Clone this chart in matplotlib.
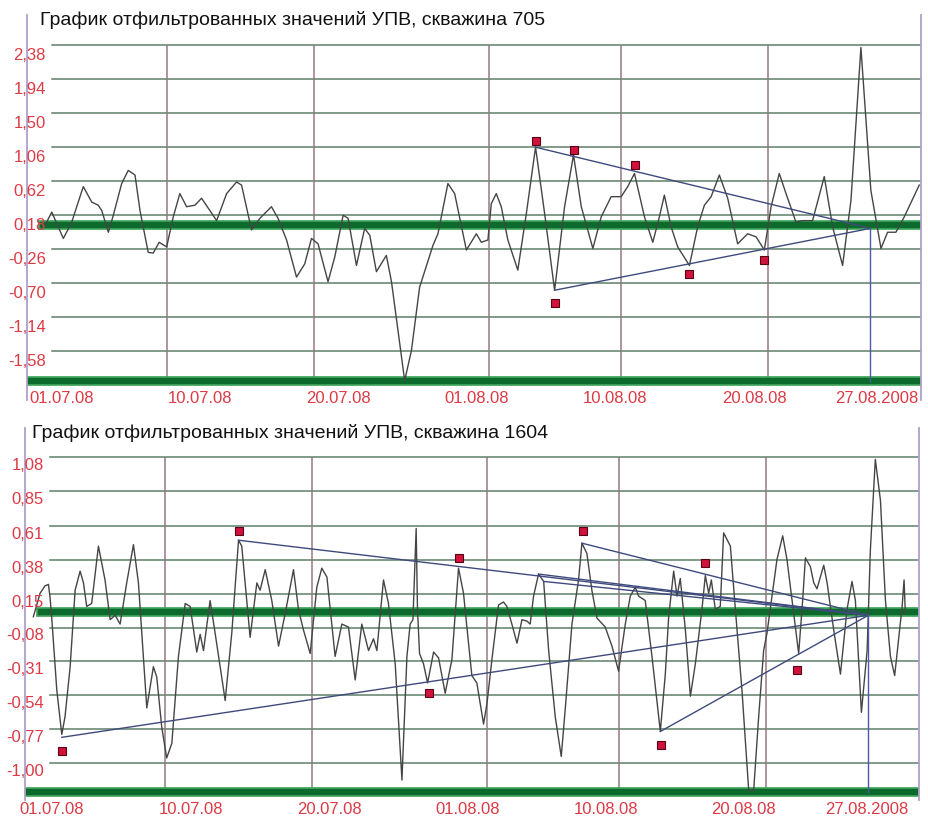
import numpy as np
import matplotlib.pyplot as plt
import matplotlib.transforms as mtransforms

plt.rcParams['font.family'] = ['Liberation Sans', 'DejaVu Sans']

# дни от 01.07.08
date_lines = [9, 19, 31, 40, 50]
date_labels = ['01.07.08', '10.07.08', '20.07.08', '01.08.08', '10.08.08', '20.08.08', '27.08.2008']
day_end = 57.0  # 27.08.2008

# скважина 705
title_705 = 'График отфильтрованных значений УПВ, скважина 705'
days_705 = [0.68, 1.14, 1.93, 2.50, 3.29, 3.87, 4.31, 4.55, 5.00, 5.34,
            5.91, 6.36, 6.82, 7.16, 7.72, 8.06, 8.47, 8.98, 9.43, 9.88,
            10.34, 10.91, 11.36, 11.93, 12.39, 13.07, 13.75, 14.09, 14.77, 15.34,
            16.13, 16.58, 17.16, 17.84, 18.40, 18.86, 19.31, 19.99, 20.45, 21.02,
            21.36, 21.93, 22.49, 22.84, 23.29, 23.97, 24.32, 25.22, 25.68, 26.24,
            27.15, 27.49, 28.17, 28.63, 29.43, 30.11, 30.45, 30.90, 31.13, 31.47,
            31.81, 32.26, 32.94, 33.52, 34.15, 34.77, 35.45, 36.13, 36.74, 37.27,
            38.06, 38.63, 39.31, 39.99, 40.44, 40.90, 41.58, 42.15, 42.60, 42.94,
            43.40, 43.85, 44.65, 45.21, 45.67, 46.13, 46.69, 47.26, 47.94, 48.62,
            49.20, 49.76, 50.22, 50.78, 51.24, 51.92, 52.37, 53.05, 53.85, 54.42,
            55.10, 55.67, 56.35, 57.03, 57.72, 58.17, 58.74, 59.31, 60.33]
upv_705 = [0.18, 0.35, 0.01, 0.22, 0.68, 0.48, 0.44, 0.37, 0.09, 0.31,
           0.72, 0.89, 0.83, 0.37, -0.17, -0.18, -0.04, -0.10, 0.29, 0.59,
           0.42, 0.44, 0.53, 0.37, 0.24, 0.59, 0.74, 0.70, 0.12, 0.27,
           0.42, 0.27, -0.01, -0.49, -0.32, 0.01, -0.06, -0.55, -0.23, 0.31,
           0.27, -0.34, 0.14, 0.05, -0.42, -0.21, -0.55, -1.83, -1.44, -0.62,
           -0.08, 0.07, 0.72, 0.59, -0.14, 0.07, -0.04, -0.01, 0.46, 0.59,
           0.42, -0.01, -0.40, 0.33, 1.19, 0.33, -0.66, 0.42, 1.09, 0.42,
           -0.12, 0.29, 0.55, 0.55, 0.68, 0.85, 0.29, -0.04, 0.29, 0.57,
           0.16, -0.10, -0.34, 0.16, 0.44, 0.55, 0.83, 0.53, -0.06, 0.07,
           0.03, -0.14, 0.42, 0.85, 0.59, 0.22, 0.24, 0.24, 0.81, 0.16,
           -0.34, 0.50, 2.48, 0.63, -0.12, 0.09, 0.09, 0.29, 0.70]
ticks_705 = [2.38, 1.94, 1.50, 1.06, 0.62, 0.18, -0.26, -0.70, -1.14, -1.58]
mean_705 = 0.18
floor_705 = -1.84
apex_705 = 0.14
mark_x_705 = [34.15, 36.74, 40.95, 35.45, 44.65, 49.73]
mark_y_705 = [1.27, 1.16, 0.96, -0.83, -0.45, -0.27]
trend_x_705 = [34.15, 35.45]
trend_y_705 = [1.19, -0.66]

# скважина 1604
title_1604 = 'График отфильтрованных значений УПВ, скважина 1604'
days_1604 = [0.02, 0.48, 0.82, 1.05, 1.16, 1.27, 1.62, 1.96, 2.18, 2.53,
             2.87, 3.21, 3.44, 3.66, 4.00, 4.46, 4.91, 5.26, 5.60, 5.94,
             6.39, 6.85, 7.19, 7.76, 8.21, 8.44, 8.78, 9.12, 9.47, 9.92,
             10.38, 10.72, 11.17, 11.40, 11.63, 12.08, 12.42, 13.11, 13.56, 14.02,
             14.24, 14.81, 15.27, 15.49, 15.84, 16.29, 16.75, 17.20, 17.77, 18.11,
             18.45, 18.91, 19.36, 19.70, 20.05, 20.61, 21.07, 21.52, 21.98, 22.43,
             22.89, 23.23, 23.46, 23.91, 24.25, 24.71, 25.17, 25.51, 25.73, 25.92,
             26.14, 26.23, 26.37, 26.64, 26.92, 27.33, 27.67, 28.12, 28.58, 29.03,
             29.37, 29.60, 29.94,
             30.28, 30.74, 30.97, 31.31, 31.76, 32.10, 32.33, 32.67, 33.02, 33.36,
             33.70, 33.92, 34.15, 34.49, 34.84, 35.18, 35.63, 36.04, 36.31, 36.77,
             37.22, 37.45, 37.79, 38.13, 38.48, 39.04, 39.50, 39.95, 40.41, 40.75,
             41.09, 41.32, 41.77, 42.23, 42.80, 43.14, 43.37, 43.71, 43.94, 44.16,
             44.51, 44.85, 45.19, 45.64, 45.87, 46.10, 46.28, 46.55, 46.89, 47.12,
             47.58, 47.92, 48.37, 48.83, 49.17, 49.51, 49.85, 50.08, 50.42, 50.76,
             51.15, 51.44, 51.79, 52.24, 52.51, 52.70, 53.04, 53.27, 53.49, 53.72,
             53.95, 54.18, 54.63, 55.09, 55.54, 55.88, 56.11, 56.52, 56.91, 57.13,
             57.47, 57.82, 58.16, 58.50, 58.79, 59.07, 59.30, 59.43, 59.52]
upv_1604 = [0.05, 0.21, 0.26, 0.27, 0.18, 0.05, -0.45, -0.75, -0.63, -0.29,
            0.23, 0.36, 0.28, 0.12, 0.14, 0.53, 0.30, 0.03, 0.06, 0.00,
            0.28, 0.54, 0.28, -0.57, -0.29, -0.36, -0.70, -0.91, -0.81, -0.22,
            0.14, 0.12, -0.19, -0.07, -0.18, 0.16, -0.06, -0.52, -0.06, 0.57,
            0.53, -0.09, 0.28, 0.23, 0.37, 0.16, -0.15, 0.07, 0.37, 0.10,
            -0.04, -0.20, 0.25, 0.38, 0.32, -0.22, 0.00, -0.02, -0.38, 0.00,
            -0.18, -0.10, -0.18, 0.30, 0.14, -0.27, -1.06, -0.22, 0.00, 0.03,
            0.65, 0.10, -0.20, -0.27, -0.40, -0.19, -0.23, -0.47, -0.24, 0.38,
            0.21, -0.02, -0.35,
            -0.40, -0.68, -0.54, -0.24, 0.13, 0.15, 0.12, 0.00, -0.13, 0.03,
            0.02, 0.00, 0.19, 0.34, 0.29, -0.18, -0.63, -0.90, -0.58, 0.00,
            0.30, 0.55, 0.48, 0.23, 0.04, -0.02, -0.15, -0.32, 0.00, 0.19,
            0.25, 0.19, 0.16, -0.22, -0.73, -0.34, 0.05, 0.36, 0.19, 0.31,
            -0.04, -0.49, -0.27, 0.10, 0.33, 0.21, 0.30, 0.10, 0.12, 0.62,
            0.53, 0.10, -0.45, -1.13, -1.13, -0.63, -0.18, -0.06, 0.19, 0.44,
            0.60, 0.44, 0.16, -0.20, 0.16, 0.45, 0.39, 0.28, 0.24, 0.32,
            0.40, 0.28, -0.04, -0.34, 0.10, 0.29, 0.16, -0.60, -0.18, 0.50,
            1.12, 0.84, 0.16, -0.22, -0.35, -0.09, 0.12, 0.30, 0.07]
ticks_1604 = [1.08, 0.85, 0.61, 0.38, 0.15, -0.08, -0.31, -0.54, -0.77, -1.00]
mean_1604 = 0.08
floor_1604 = -1.14
apex_1604 = 0.06
mark_x_1604 = [1.96, 14.02, 26.99, 29.03, 37.52, 45.82, 42.84, 52.13]
mark_y_1604 = [-0.86, 0.635, -0.47, 0.447, 0.63, 0.413, -0.82, -0.31]
trend_x_1604 = [14.02, 34.49, 34.84, 37.45, 1.96, 42.80]
trend_y_1604 = [0.57, 0.34, 0.29, 0.55, -0.77, -0.73]

W, H = 929, 816
fig = plt.figure(figsize=(W / 100, H / 100), dpi=100)

RED = '#dc3a44'
GRID = '#5f7f69'
VLINE = '#927a82'
EDGE = '#b0a0c8'
DKGREEN = '#0c6b2c'


def panel(box, ylim, title, title_xy, days, upv, ticks, grid_shift, mean, floor,
          apex, mx, my, tx, ty, label_fr):
    l, t, r, b = box
    ax = fig.add_axes([l / W, 1 - b / H, (r - l) / W, (b - t) / H])
    ax.set_xlim(-0.55, 60.45)
    ax.set_ylim(*ylim)
    ax.set_xticks([])
    ax.set_yticks([])
    for s in ['top', 'bottom']:
        ax.spines[s].set_visible(False)
    for s in ['left', 'right']:
        ax.spines[s].set_color(EDGE)
        ax.spines[s].set_linewidth(1.3)

    top_grid = ticks[0] + grid_shift
    for v in ticks:
        ax.axhline(v + grid_shift, xmin=0.028, color=GRID, lw=1.1, zorder=1)
    ax.vlines(date_lines, floor, top_grid, color=VLINE, lw=1.1, zorder=1)

    ax.axhline(mean, xmin=0.018, color='#3fa45a', lw=7, zorder=2)
    ax.axhline(mean, xmin=0.018, color=DKGREEN, lw=4.5, zorder=2)
    ax.axhline(floor, color='#3fa45a', lw=7, zorder=2)
    ax.axhline(floor, color=DKGREEN, lw=4.5, zorder=2)

    ax.plot(days, upv, color='#454545', lw=1.0, zorder=3)

    for x, y in zip(tx, ty):
        ax.plot([x, day_end], [y, apex], color='#3f4a7c', lw=1.0, zorder=4)
    ax.plot([day_end, day_end], [apex, floor], color='#4a5aa0', lw=1.0, zorder=4)

    ax.plot(mx, my, 's', ls='none', ms=6, mfc='#d0123c', mec='#5a0016',
            mew=0.8, zorder=5)

    trans = mtransforms.blended_transform_factory(ax.transAxes, ax.transData)
    for v in ticks:
        ax.text(0.021, v, f'{v:.2f}'.replace('.', ','), transform=trans,
                ha='right', va='center', color=RED, fontsize=12, clip_on=False)

    lab_y = 1 - label_fr[0] / H
    for xf, lab in zip(label_fr[1], date_labels):
        fig.text(xf / W, lab_y, lab, ha='center', va='center', color=RED,
                 fontsize=12)

    fig.text(title_xy[0] / W, 1 - title_xy[1] / H, title, ha='left',
             va='center', fontsize=14, color='#111111')
    return ax


panel((27, 15, 921, 400), (-2.08, 2.90), title_705, (40, 20), days_705, upv_705,
      ticks_705, 0.136, mean_705, floor_705, apex_705,
      mark_x_705, mark_y_705, trend_x_705, trend_y_705,
      (398, [62, 200, 338, 477, 615, 754, 877]))

panel((25, 428, 919, 800), (-1.196, 1.333), title_1604, (32, 433), days_1604,
      upv_1604, ticks_1604, 0.056, mean_1604, floor_1604, apex_1604,
      mark_x_1604, mark_y_1604, trend_x_1604, trend_y_1604,
      (809, [52, 191, 329, 468, 606, 743, 867]))

fig.savefig('out.png', dpi=100, facecolor='white')
